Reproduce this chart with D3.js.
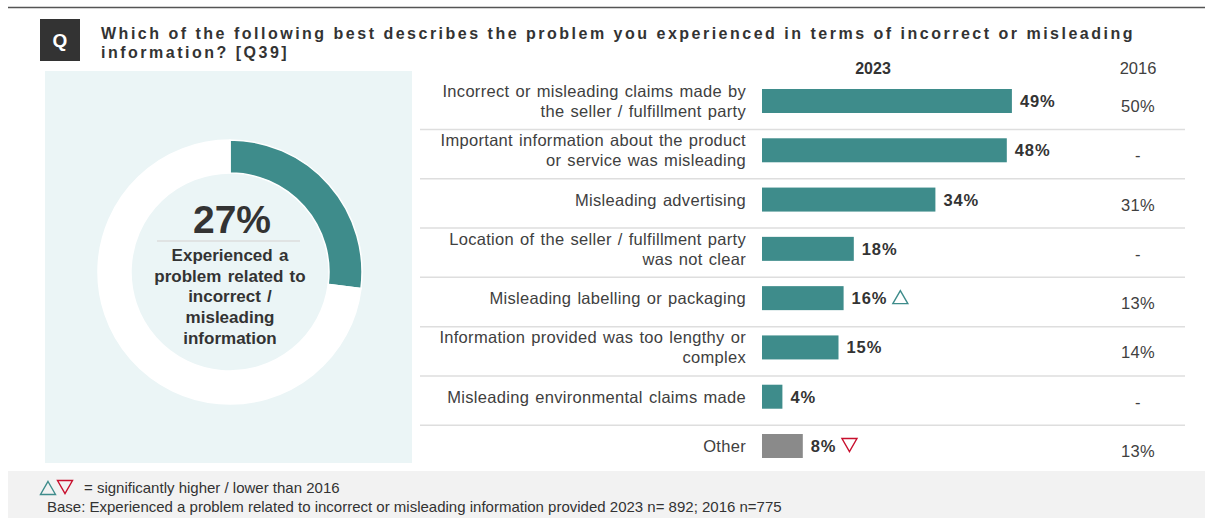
<!DOCTYPE html>
<html>
<head>
<meta charset="utf-8">
<script src="https://cdn.jsdelivr.net/npm/d3@7"></script>
<style>
  html, body { margin: 0; padding: 0; background: #fff; }
  svg { display: block; font-family: "Liberation Sans", Arial, sans-serif; }
</style>
</head>
<body>
<svg id="chart" width="1205" height="518"></svg>
<script>
// Problem categories (label lines) and shares
const categories = [
  ["Incorrect or misleading claims made by", "the seller / fulfillment party"],
  ["Important information about the product", "or service was misleading"],
  ["Misleading advertising"],
  ["Location of the seller / fulfillment party", "was not clear"],
  ["Misleading labelling or packaging"],
  ["Information provided was too lengthy or", "complex"],
  ["Misleading environmental claims made"],
  ["Other"]
];
const values2023 = [49, 48, 34, 18, 16, 15, 4, 8];
const values2016 = [50, null, 31, null, 13, 14, null, 13];
// significance vs 2016: 1 = higher, -1 = lower, 0 = none
const significance = [0, 0, 0, 0, 1, 0, 0, -1];
const overallShare = 27;

const titleLines = [
  "Which of the following best describes the problem you experienced in terms of incorrect or misleading",
  "information? [Q39]"
];
const donutLines = ["Experienced a", "problem related to", "incorrect /", "misleading", "information"];
const legendText = "= significantly higher / lower than 2016";
const baseText = "Base: Experienced a problem related to incorrect or misleading information provided 2023 n= 892; 2016 n=775";

const TEAL = "#3e8c8b";
const GREY = "#8a8a8a";
const RED = "#c8102e";
const TEXT = "#404040";

const svg = d3.select("#chart");

// top rule
svg.append("line").attr("x1", 8).attr("x2", 1205).attr("y1", 7.5).attr("y2", 7.5)
  .attr("stroke", "#555").attr("stroke-width", 1.5);

// question badge
svg.append("rect").attr("x", 40).attr("y", 19).attr("width", 40).attr("height", 42).attr("fill", "#333");
svg.append("text").attr("x", 60).attr("y", 47).attr("text-anchor", "middle")
  .attr("fill", "#fff").attr("font-weight", "bold").attr("font-size", 19).text("Q");

svg.append("g").selectAll("text").data(titleLines).join("text")
  .attr("x", 101).attr("y", (d, i) => 39 + i * 19)
  .attr("fill", "#333").attr("font-weight", "bold").attr("font-size", 16)
  .attr("letter-spacing", 2.5)
  .text(d => d);

// left panel with donut
svg.append("rect").attr("x", 45).attr("y", 71).attr("width", 367).attr("height", 392).attr("fill", "#ebf5f6");

const cx = 230, cy = 272;
const pie = d3.pie().sort(null).value(d => d)([overallShare, 100 - overallShare]);
const arc = d3.arc().innerRadius(99).outerRadius(132);
svg.append("g").attr("transform", `translate(${cx},${cy})`)
  .selectAll("path").data(pie).join("path")
  .attr("d", arc)
  .attr("fill", (d, i) => i === 0 ? TEAL : "#fff")
  .attr("stroke", "#fff").attr("stroke-width", 1.5);

svg.append("text").attr("x", cx + 2).attr("y", 233).attr("text-anchor", "middle")
  .attr("fill", "#333").attr("font-weight", "bold").attr("font-size", 39).text(overallShare + "%");
svg.append("line").attr("x1", 157).attr("x2", 300).attr("y1", 241).attr("y2", 241)
  .attr("stroke", "#dcdcdc").attr("stroke-width", 1.5);
svg.append("g").selectAll("text").data(donutLines).join("text")
  .attr("x", cx).attr("y", (d, i) => 261 + i * 20.7)
  .attr("text-anchor", "middle").attr("fill", "#333")
  .attr("font-weight", "bold").attr("font-size", 17).attr("word-spacing", 1.5)
  .text(d => d);

// bar chart
const idx = d3.range(categories.length);
const y = d3.scalePoint().domain(idx).range([101, 446]);
const x = d3.scaleLinear().domain([0, 100]).range([762, 1272]);
const barH = 24;
const col2016 = 1138;

svg.append("text").attr("x", 873).attr("y", 74).attr("text-anchor", "middle")
  .attr("fill", "#333").attr("font-weight", "bold").attr("font-size", 16).text("2023");
svg.append("text").attr("x", col2016).attr("y", 74).attr("text-anchor", "middle")
  .attr("fill", TEXT).attr("font-size", 16.5).text("2016");

// row separators
svg.append("g").selectAll("line").data(idx.slice(0, -1)).join("line")
  .attr("x1", 420).attr("x2", 1185)
  .attr("y1", d => y(d) + 28.5).attr("y2", d => y(d) + 28.5)
  .attr("stroke", "#dedede").attr("stroke-width", 1.5);

const rows = svg.append("g").selectAll("g").data(idx).join("g");

rows.each(function (i) {
  const g = d3.select(this);
  const lines = categories[i];
  const c = y(i);
  const firstY = lines.length === 1 ? c + 6 : c - 4;
  g.selectAll("text.lab").data(lines).join("text").attr("class", "lab")
    .attr("x", 746).attr("y", (d, k) => firstY + k * 20)
    .attr("text-anchor", "end").attr("fill", TEXT).attr("font-size", 16.5)
    .attr("letter-spacing", 0.3).attr("word-spacing", 1.2)
    .text(d => d);
});

rows.append("rect")
  .attr("x", x(0)).attr("y", i => y(i) - barH / 2)
  .attr("width", i => x(values2023[i]) - x(0)).attr("height", barH)
  .attr("fill", i => i === categories.length - 1 ? GREY : TEAL);

rows.append("text").attr("class", "val")
  .attr("x", i => x(values2023[i]) + 8).attr("y", i => y(i) + 6)
  .attr("fill", "#333").attr("font-weight", "bold").attr("font-size", 16.5)
  .attr("letter-spacing", 0.9)
  .text(i => values2023[i] + "%");

rows.append("text")
  .attr("x", col2016).attr("y", i => y(i) + 11)
  .attr("text-anchor", "middle").attr("fill", TEXT).attr("font-size", 16.5)
  .attr("letter-spacing", 0.3)
  .text(i => values2016[i] == null ? "-" : values2016[i] + "%");

// significance markers
function triangle(g, cxT, cyT, up, color) {
  const w = 15, h = 13;
  const pts = up
    ? [[cxT, cyT - h / 2], [cxT + w / 2, cyT + h / 2], [cxT - w / 2, cyT + h / 2]]
    : [[cxT - w / 2, cyT - h / 2], [cxT + w / 2, cyT - h / 2], [cxT, cyT + h / 2]];
  g.append("path").attr("d", d3.line()(pts) + "Z")
    .attr("fill", "none").attr("stroke", color).attr("stroke-width", 1.4);
}
rows.filter(i => significance[i] !== 0).each(function (i) {
  const g = d3.select(this);
  const t = g.select("text.val").node();
  const tx = x(values2023[i]) + 8 + t.getComputedTextLength() + 13;
  triangle(g, tx, y(i) - 1, significance[i] > 0, significance[i] > 0 ? TEAL : RED);
});

// footer
svg.append("rect").attr("x", 8).attr("y", 471).attr("width", 1197).attr("height", 47).attr("fill", "#f2f2f2");
const foot = svg.append("g");
triangle(foot, 48, 488, true, TEAL);
triangle(foot, 65, 487, false, RED);
foot.append("text").attr("x", 84).attr("y", 493).attr("fill", "#333").attr("font-size", 15).text(legendText);
foot.append("text").attr("x", 47).attr("y", 512).attr("fill", "#333").attr("font-size", 15).text(baseText);
</script>
</body>
</html>
